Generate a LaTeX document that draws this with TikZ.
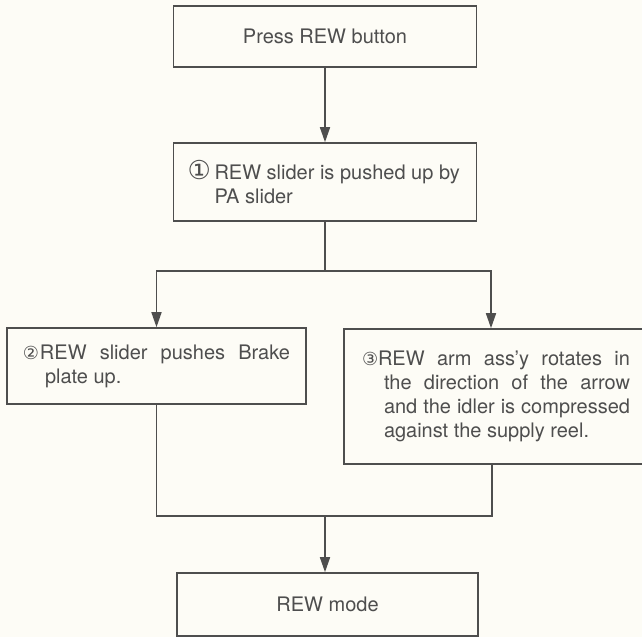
\documentclass[tikz,border=0pt]{standalone}
\usepackage{fontspec}
\setmainfont{TeX Gyre Heros}
\newfontfamily\circfont{DejaVu Sans}
\usetikzlibrary{arrows.meta}

\definecolor{ink}{RGB}{78,78,78}
\definecolor{paper}{RGB}{253,252,246}
% numbered text: hang, number size, number, text width, text
\newcommand\numpar[5]{\makebox[#1][l]{\circfont\fontsize{#2}{#2}\selectfont #3}\parbox[t]{#4}{#5}}

\begin{document}
\begin{tikzpicture}[x=0.5pt,y=-0.5pt,
  wire/.style={draw=ink,line width=0.8pt},
  flow/.style={wire,-{Triangle[width=5pt,length=7.5pt]}},
  box/.style={wire,text=ink,font=\fontsize{10}{12}\selectfont,inner sep=0pt}]
  \fill[paper] (0,0) rectangle (642,637);
  \useasboundingbox (0,0) rectangle (642,637);

  \node[box,minimum width=151.5pt,minimum height=30.5pt](press) at (325,36.5) {Press REW button};
  \node[box,minimum width=151.5pt,minimum height=39pt](pushup) at (325,182)
    {\numpar{13.5pt}{13}{①}{124pt}{\raggedright REW slider is pushed up by\\PA slider}};
  \node[box,minimum width=149.5pt,minimum height=38pt](brake) at (156.5,366)
    {\numpar{11pt}{9}{②}{122.5pt}{\hspace*{-2.5pt}REW slider pushes Brake\linebreak plate up.}};
  \node[box,minimum width=152pt,minimum height=67.5pt](rewarm) at (496,396.5)
    {\numpar{11pt}{9}{③}{123pt}{\hspace*{-3pt}REW arm ass’y rotates in\linebreak the direction of the arrow\linebreak and the idler is compressed\linebreak against the supply reel.}};
  \node[box,minimum width=150.5pt,minimum height=31.5pt](rewmode) at (327.5,604.5) {REW mode};

  \coordinate (fork)  at (325,271);
  \coordinate (merge) at (325,516);

  \draw[flow] (press) -- (pushup);
  \draw[wire] (pushup) -- (fork);
  \draw[flow] (fork) -| (brake.north);
  \draw[flow] (fork) -| ([xshift=-2.5pt]rewarm.north);
  \draw[wire] (brake.south) |- (merge) -| ([xshift=-2pt]rewarm.south);
  \draw[flow] (merge) -- (merge |- rewmode.north);
\end{tikzpicture}
\end{document}
